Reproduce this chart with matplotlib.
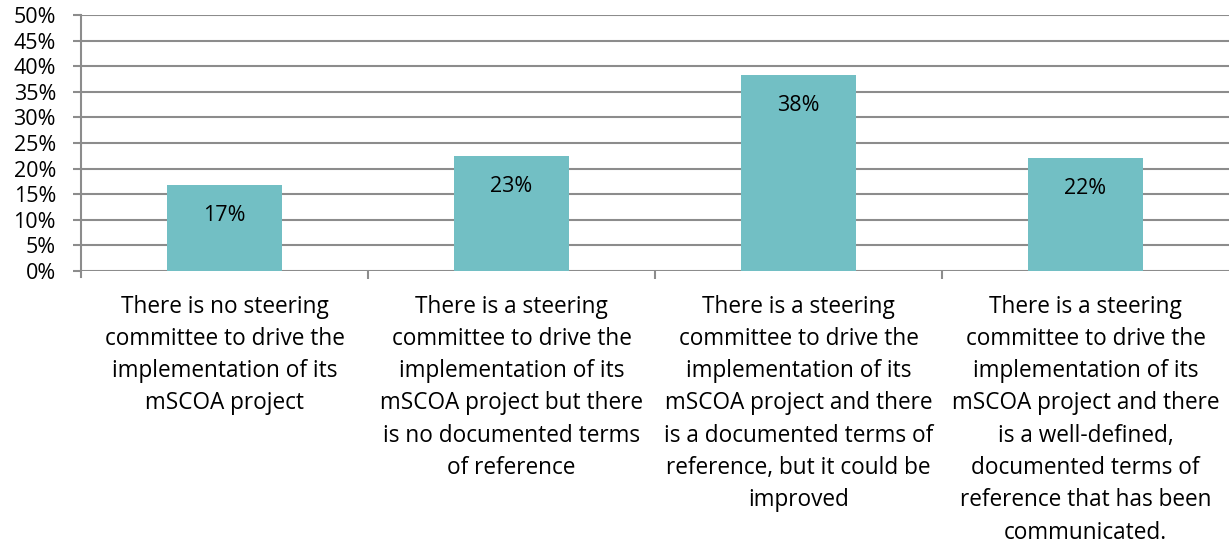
import matplotlib
matplotlib.use("Agg")
import matplotlib.pyplot as plt
import numpy as np

categories = [
    "There is no steering\ncommittee to drive the\nimplementation of its\nmSCOA project",
    "There is a steering\ncommittee to drive the\nimplementation of its\nmSCOA project but there\nis no documented terms\nof reference",
    "There is a steering\ncommittee to drive the\nimplementation of its\nmSCOA project and there\nis a documented terms of\nreference, but it could be\nimproved",
    "There is a steering\ncommittee to drive the\nimplementation of its\nmSCOA project and there\nis a well-defined,\ndocumented terms of\nreference that has been\ncommunicated.",
]
values = [16.8, 22.5, 38.2, 22.1]
labels = ["17%", "23%", "38%", "22%"]
yticks = [0, 5, 10, 15, 20, 25, 30, 35, 40, 45, 50]

plt.rcParams['font.family'] = ['Open Sans', 'DejaVu Sans']

fig = plt.figure(figsize=(12.29, 5.46), dpi=100)
ax = fig.add_axes([81/1229, 1-271/546, 1-81/1229, (271-15)/546])

grid_c = "#8c8c8c"
x = np.arange(len(categories))
bars = ax.bar(x, values, width=0.4, color="#72BFC4", zorder=3)
for xi, v, lab in zip(x, values, labels):
    ax.annotate(lab, (xi, v), xytext=(0, -22), textcoords="offset points",
                ha="center", va="center", fontsize=15.5, color="#000000", zorder=4)

ax.set_xlim(-0.5, len(categories) - 0.5)
ax.set_ylim(0, 50)
ax.set_yticks(yticks)
ax.set_yticklabels([f"{t}%" for t in yticks], fontsize=15.5)
for t in yticks:
    ax.axhline(t, color=grid_c, lw=1.5, zorder=1)

ax.set_xticks(x)
ax.set_xticklabels(categories, fontsize=16.3, linespacing=1.46, va="top")
ax.tick_params(axis="x", length=0, pad=17)
ax.set_xticks(np.arange(0.5, len(categories) - 1, 1), minor=True)
ax.tick_params(axis="x", which="minor", length=6, color=grid_c, width=1.5)
ax.tick_params(axis="y", length=6, color=grid_c, width=1.5, pad=12)

for s in ["top", "right", "bottom"]:
    ax.spines[s].set_visible(False)
ax.spines["left"].set_color(grid_c)
ax.spines["left"].set_linewidth(1.5)
ax.spines["left"].set_bounds(-1.2, 50)

fig.savefig("out.png", dpi=100)
